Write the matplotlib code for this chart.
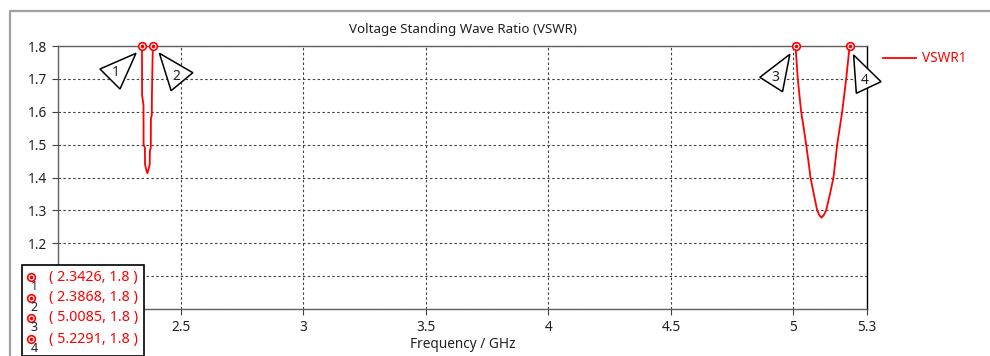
import numpy as np
import matplotlib
matplotlib.use("Agg")
import matplotlib.pyplot as plt
from matplotlib.lines import Line2D
from matplotlib.patches import Polygon, Rectangle
from matplotlib.transforms import ScaledTranslation

# VSWR curve, two bands (only the part inside the 1.8 limit is shown)
band1_freq = [2.3426, 2.3430, 2.3488, 2.3492, 2.3545, 2.3550, 2.3605, 2.3645,
              2.3690, 2.3742, 2.3747, 2.3785, 2.3790, 2.3826, 2.3831, 2.3868]
band1_vswr = [1.800, 1.650, 1.620, 1.500, 1.490, 1.440, 1.422, 1.413,
              1.424, 1.440, 1.480, 1.490, 1.580, 1.590, 1.650, 1.800]

band2_freq = [5.0085, 5.0176, 5.0314, 5.0420, 5.0518, 5.0610, 5.0694, 5.0830,
              5.0967, 5.1060, 5.1143, 5.1230, 5.1335, 5.1490, 5.1633, 5.1710,
              5.1784, 5.1988, 5.2151, 5.2291]
band2_vswr = [1.800, 1.700, 1.600, 1.550, 1.500, 1.450, 1.400, 1.350,
              1.300, 1.285, 1.278, 1.285, 1.300, 1.350, 1.400, 1.450,
              1.500, 1.600, 1.700, 1.800]

marker_freq = [2.3426, 2.3868, 5.0085, 5.2291]
marker_vswr = [1.8, 1.8, 1.8, 1.8]
marker_names = ["1", "2", "3", "4"]

xticks = [2.5, 3, 3.5, 4, 4.5, 5, 5.3]
xtick_labels = ["2.5", "3", "3.5", "4", "4.5", "5", "5.3"]
yticks = [1.0, 1.1, 1.2, 1.3, 1.4, 1.5, 1.6, 1.7, 1.8]

plt.rcParams['font.family'] = ['Noto Sans', 'DejaVu Sans']

W, H = 990, 356
fig = plt.figure(figsize=(W / 100, H / 100), dpi=100)
ax = fig.add_axes([58 / W, 1 - 309 / H, (867 - 58) / W, (309 - 46) / H])

red = '#ff0000'
ax.plot(band1_freq, band1_vswr, color=red, lw=1.3, label='VSWR1', zorder=3)
ax.plot(band2_freq, band2_vswr, color=red, lw=1.3, zorder=3)

# marker symbols: open circle with a dot
ax.plot(marker_freq, marker_vswr, ls='none', marker='o', ms=5.5, mfc='white',
        mec=red, mew=1.2, zorder=5, clip_on=False)
ax.plot(marker_freq, marker_vswr, ls='none', marker='o', ms=1.6, mfc=red,
        mec=red, zorder=6, clip_on=False)

ax.set_xlim(2.0, 5.3)
ax.set_ylim(1.0, 1.8)
ax.set_xticks(xticks)
ax.set_xticklabels(xtick_labels)
ax.set_yticks(yticks)
# labels for 1.0 and 1.1 sit under the marker box, so leave them out
ax.set_yticklabels(["" if v < 1.15 else f"{v:.1f}" for v in yticks])
ax.tick_params(labelsize=9.8, length=4, width=0.8, color='#404040', labelcolor='#202020')
ax.tick_params(axis='x', pad=4)
ax.tick_params(axis='y', pad=4)
ax.grid(True, color='#404040', lw=0.8, ls=(0, (2.2, 2.2)))
for s in ['left', 'bottom', 'top']:
    ax.spines[s].set_color('#606060')
ax.spines['right'].set_color('black')
for s in ax.spines.values():
    s.set_linewidth(1.0)

# triangle callouts next to the markers (pixel offsets from the marker)
tri_offsets = [
    [(-42, 23), (-6, 7.3), (-22, 43)],
    [(6.6, 7.3), (40, 26.7), (18.3, 44.7)],
    [(-5.7, 8.3), (-35.7, 31.3), (-13, 45.7)],
    [(4, 9), (31.4, 35.7), (6.7, 47.3)],
]
label_offsets = [(-26, 26.7), (23, 30), (-20.7, 31.3), (14.7, 34)]
for f, v, name, tri, lab in zip(marker_freq, marker_vswr, marker_names,
                                 tri_offsets, label_offsets):
    trans = fig.dpi_scale_trans + ScaledTranslation(f, v, ax.transData)
    verts = [(dx / 100, -dy / 100) for dx, dy in tri]
    ax.add_patch(Polygon(verts, closed=True, fc='white', ec='black', lw=1.1,
                         transform=trans, clip_on=False, zorder=7))
    ax.text(lab[0] / 100, -lab[1] / 100, name, transform=trans, ha='center',
            va='center', fontsize=10, color='#202030', zorder=8)

# legend outside right
ax.legend(loc='center left', bbox_to_anchor=(883 / W, 1 - 59 / H),
          bbox_transform=fig.transFigure, frameon=False, borderpad=0,
          borderaxespad=0, handlelength=2.4, handletextpad=0.45,
          fontsize=9.8, labelcolor=red)

# title and x label
fig.text(462.5 / W, 1 - 30 / H, "Voltage Standing Wave Ratio (VSWR)",
         ha='center', va='center', fontsize=9.6, color='#202020')
fig.text(462.5 / W, 1 - 345 / H, "Frequency / GHz", ha='center', va='center',
         fontsize=9.8, color='#202020')

# marker value box, lower left
fig.add_artist(Rectangle((22 / W, 0), (144 - 22) / W, 1 - 265 / H,
                         transform=fig.transFigure, fc='white', ec='black',
                         lw=1.2, zorder=10))
row_y = [277, 298, 318, 339]
for f, v, name, y in zip(marker_freq, marker_vswr, marker_names, row_y):
    fy = 1 - y / H
    fig.add_artist(Line2D([31 / W], [fy], ls='none', marker='o', ms=5.5,
                          mfc='white', mec=red, mew=1.2, zorder=11))
    fig.add_artist(Line2D([31 / W], [fy], ls='none', marker='o', ms=1.6,
                          mfc=red, mec=red, zorder=12))
    fig.text(34 / W, 1 - (y + 9.5) / H, name, ha='center', va='center',
             fontsize=9, color='#202030', zorder=12)
    fig.text(49 / W, fy, f"( {f}, {v} )", ha='left', va='center',
             fontsize=10.3, color=red, zorder=12)

# outer window frame
fig.add_artist(Line2D([9.5 / W, 9.5 / W, 1], [0, 1 - 11 / H, 1 - 11 / H],
                      color='#a0a0a0', lw=1.6, zorder=1))

fig.savefig("out.png", dpi=100)
